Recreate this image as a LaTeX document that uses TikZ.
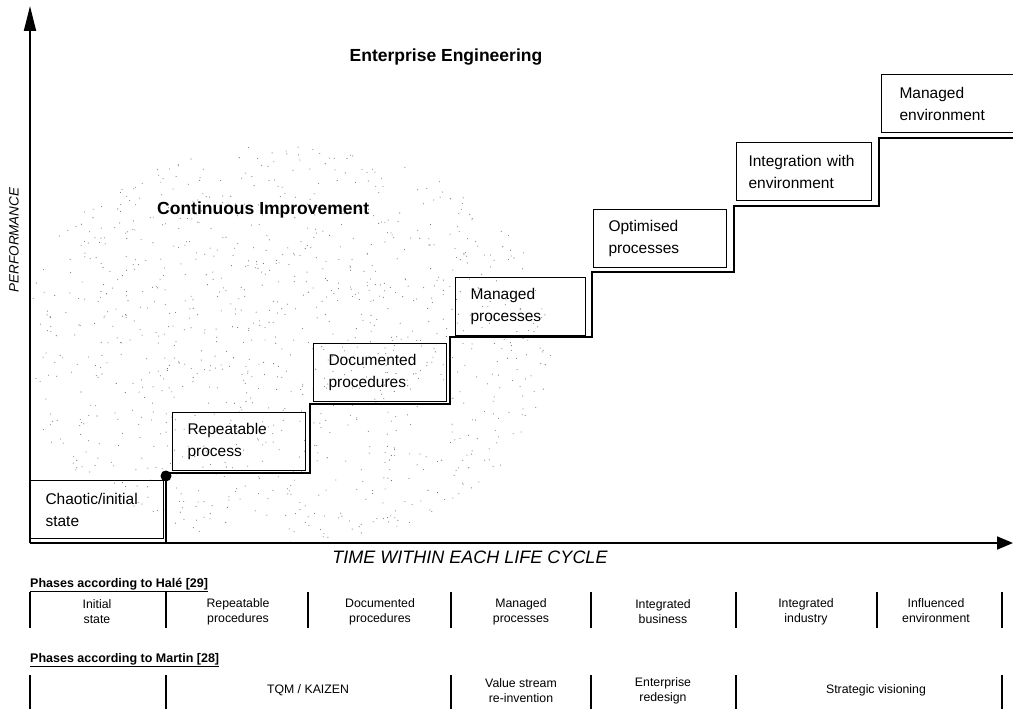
\documentclass[tikz,border=0pt]{standalone}
\usepackage{fontspec}
\setmainfont{Liberation Sans}
\usetikzlibrary{arrows.meta}
\begin{document}
\begin{tikzpicture}[x=1pt,y=-1pt,
  stepbox/.style={draw, line width=1.1pt, anchor=north west, minimum height=58pt,
    text width=103pt, inner xsep=15pt, inner ysep=0pt, align=left,
    font=\fontsize{15.5}{22}\selectfont},
  stair/.style={line width=1.5pt},
  axis/.style={line width=1.8pt},
  phase/.style={align=center, inner sep=0pt, font=\fontsize{12.3}{15}\selectfont},
  divider/.style={line width=1.2pt},
  header/.style={anchor=west, inner sep=0pt, font=\bfseries\fontsize{12.5}{15}\selectfont},
  title/.style={inner sep=0pt, font=\bfseries\fontsize{17.5}{20}\selectfont},
  axislabel/.style={inner sep=0pt, font=\itshape\fontsize{18}{20}\selectfont},
  speck/.style={fill=black!55}
]
\useasboundingbox (0,0) rectangle (1013,709);

% stippled area of continuous improvement
\begin{scope}
  \clip (32,120) rectangle (600,541);
  \pgfmathsetseed{4242}
  \foreach \i in {1,...,1100}{
    \pgfmathsetmacro\rr{sqrt(rnd)}
    \pgfmathsetmacro\aa{360*rnd}
    \fill[speck] ({285+270*\rr*cos(\aa)},{345+200*\rr*sin(\aa)}) circle (0.55pt);
  }
\end{scope}

% axes
\coordinate (O) at (30,543);
\coordinate (ytip) at (30,6);
\coordinate (xtip) at (1013,543);
\draw[axis,-{Triangle[length=25pt,width=12pt]}] (O) -- (ytip);
\draw[axis,-{Triangle[length=16pt,width=13pt]}] (O) -- (xtip);

% staircase behind the steps
\draw[stair] (166,543) -- (166,473) -- (310,473) -- (310,404) -- (450,404)
  -- (450,337) -- (592,337) -- (592,272) -- (734,272) -- (734,206)
  -- (879,206) -- (879,138) -- (1030,138);
\node[circle, fill, minimum size=11pt, inner sep=0pt] (start) at (166,476) {};

% steps
\node[stepbox] (s0) at (30,480) {Chaotic/initial\\state};
\node[stepbox] (s1) at (172,412) {Repeatable\\process};
\node[stepbox] (s2) at (313,343) {Documented\\procedures};
\node[stepbox, text width=100pt] (s3) at (455,277) {Managed\\processes};
\node[stepbox] (s4) at (593,209) {Optimised\\processes};
\node[stepbox, inner xsep=12pt, text width=111pt] (s5) at (736,142) {Integration with\\environment};
\node[stepbox, inner xsep=18pt, text width=150pt] (s6) at (881,74) {Managed\\environment};

% titles and axis labels
\node[title] (ee) at (446,57) {Enterprise Engineering};
\node[title, anchor=west] (ci) at (157,210) {Continuous Improvement};
\node[axislabel] (tl) at (470,557) {TIME WITHIN EACH LIFE CYCLE};
\node[axislabel, font=\itshape\fontsize{13.5}{15}\selectfont, rotate=90] (pl) at (14,240) {PERFORMANCE};

% phase tables
\node[header] (hh) at (30,585) {\underline{Phases according to Halé [29]}};
\node[header] (hm) at (30,660) {\underline{Phases according to Martin [28]}};

\foreach \x in {30,166,308,451,591,736,877,1002}
  \draw[divider] (\x,592) -- (\x,628);
\foreach \x in {30,166,451,591,736,1002}
  \draw[divider] (\x,675) -- (\x,712);

\node[phase] (h1) at (97,612) {Initial\\state};
\node[phase] (h2) at (238,612) {Repeatable\\procedures};
\node[phase] (h3) at (380,612) {Documented\\procedures};
\node[phase] (h4) at (521,612) {Managed\\processes};
\node[phase] (h5) at (663,612) {Integrated\\business};
\node[phase] (h6) at (806,612) {Integrated\\industry};
\node[phase] (h7) at (936,611) {Influenced\\environment};

\node[phase] (m1) at (308,690) {TQM / KAIZEN};
\node[phase] (m2) at (521,691) {Value stream\\re-invention};
\node[phase] (m3) at (663,691) {Enterprise\\redesign};
\node[phase] (m4) at (876,690) {Strategic visioning};
\end{tikzpicture}
\end{document}
